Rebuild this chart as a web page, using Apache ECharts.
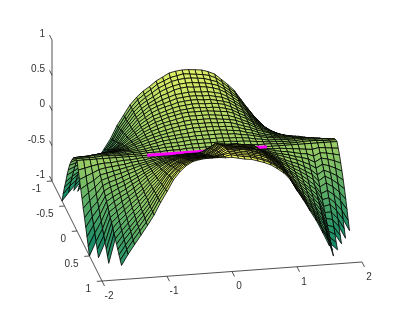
<!DOCTYPE html>
<html><head><meta charset="utf-8">
<style>html,body{margin:0;padding:0;background:#fff}#c{width:400px;height:316px}</style>
<script src="https://cdn.jsdelivr.net/npm/echarts@6/dist/echarts.min.js"></script>
</head><body><div id="c"></div>
<script>
const _ = null;
const xValues = [-2,-1.9,-1.8,-1.7,-1.6,-1.5,-1.4,-1.3,-1.2,-1.1,-1,-.9,-.8,-.7,-.6,-.5,-.4,-.3,-.2,-.1,0,.1,.2,.3,.4,.5,.6,.7,.8,.9,1,1.1,1.2,1.3,1.4,1.5,1.6,1.7,1.8,1.9,2];
const yValues = [-1,-.95,-.9,-.85,-.8,-.75,-.7,-.65,-.6,-.55,-.5,-.45,-.4,-.35,-.3,-.25,-.2,-.15,-.1,-.05,0,.05,.1,.15,.2,.25,.3,.35,.4,.45,.5,.55,.6,.65,.7,.75,.8,.85,.9,.95,1];
// surface heights, in hundredths; one row per y value, _ = outside the z limits
const zRows = [
[_,_,_,_,_,_,-90,-74,-60,-46,-28,-14,0,10,18,24,31,36,41,43,44,44,43,42,39,35,27,19,10,-3,-16,-28,-40,-50,-62,-75,-90,_,_,_,_],
[_,_,_,_,_,_,-86,-71,-57,-44,-27,-13,0,10,17,23,30,34,38,40,42,41,40,39,37,33,26,18,10,-3,-15,-27,-38,-48,-59,-72,-86,_,_,_,_],
[_,_,_,_,_,-95,-81,-67,-54,-41,-25,-13,0,9,16,22,28,32,36,38,39,39,38,37,34,31,24,17,9,-3,-14,-25,-36,-45,-56,-68,-81,-99,_,_,_],
[_,_,_,_,_,-88,-76,-62,-51,-39,-24,-12,0,9,15,20,26,30,33,35,36,36,35,34,32,29,23,16,9,-3,-13,-24,-34,-42,-52,-63,-76,-93,_,_,_],
[_,_,_,_,-94,-82,-70,-58,-47,-36,-22,-11,0,8,14,19,24,27,31,33,34,33,33,32,30,27,22,15,8,-2,-12,-22,-31,-39,-48,-58,-70,-86,_,_,_],
[_,_,_,-99,-86,-75,-64,-53,-43,-33,-20,-10,0,7,14,18,22,25,28,29,30,30,29,29,27,25,20,14,7,-2,-12,-20,-29,-36,-45,-53,-64,-78,-94,_,_],
[_,_,_,-89,-77,-67,-58,-48,-40,-31,-19,-10,0,7,13,17,20,23,26,27,28,28,27,27,25,23,19,13,7,-2,-11,-19,-26,-33,-40,-48,-58,-70,-85,_,_],
[_,_,-90,-79,-69,-60,-52,-43,-36,-28,-17,-9,0,6,12,16,19,21,24,25,26,26,25,25,23,21,18,12,6,-2,-10,-17,-24,-29,-36,-43,-51,-63,-76,-91,_],
[-100,-89,-79,-69,-60,-52,-46,-38,-32,-25,-16,-8,0,6,11,14,17,20,22,23,24,24,23,23,22,20,16,11,6,-2,-9,-15,-21,-26,-32,-37,-45,-55,-66,-80,-100],
[-86,-76,-68,-60,-52,-45,-40,-34,-28,-22,-14,-7,0,5,10,13,16,18,20,21,22,22,21,21,20,18,15,10,5,-2,-8,-13,-19,-23,-27,-32,-39,-47,-57,-69,-86],
[-73,-65,-57,-50,-44,-38,-34,-29,-24,-19,-12,-6,0,5,9,12,15,17,19,20,20,20,20,19,18,17,14,9,5,-1,-7,-12,-16,-20,-23,-27,-33,-40,-48,-58,-73],
[-62,-55,-49,-43,-38,-33,-29,-25,-21,-17,-11,-6,0,4,8,11,13,15,17,18,18,18,18,17,16,15,12,8,4,-1,-6,-10,-14,-17,-20,-23,-28,-34,-41,-50,-62],
[-49,-44,-39,-34,-30,-26,-24,-21,-18,-14,-9,-5,0,4,7,10,12,13,15,16,16,16,16,15,14,13,11,7,4,-1,-5,-9,-12,-14,-16,-18,-22,-27,-33,-39,-49],
[-38,-34,-30,-27,-23,-20,-19,-17,-15,-12,-8,-4,0,3,6,8,10,12,13,14,14,14,14,13,13,12,9,6,3,-1,-4,-7,-10,-11,-13,-14,-17,-21,-25,-31,-38],
[-28,-25,-22,-20,-17,-15,-14,-13,-12,-10,-6,-3,0,3,5,7,9,10,11,12,12,12,12,11,11,10,8,5,3,-1,-4,-6,-8,-9,-10,-11,-13,-16,-19,-23,-28],
[-20,-17,-15,-14,-12,-10,-10,-10,-9,-8,-5,-3,0,2,5,6,7,8,9,10,10,10,10,10,9,8,7,4,2,-1,-3,-5,-6,-7,-7,-7,-9,-11,-13,-16,-20],
[-13,-11,-10,-9,-8,-7,-7,-7,-6,-6,-4,-2,0,2,4,5,6,7,7,8,8,8,8,8,7,7,5,4,2,0,-2,-3,-4,-5,-5,-5,-6,-7,-8,-10,-13],
[-7,-6,-6,-5,-4,-4,-4,-5,-4,-4,-3,-2,0,1,3,4,4,5,6,6,6,6,6,6,5,5,4,3,1,0,-2,-2,-3,-3,-3,-3,-3,-4,-5,-6,-7],
[-3,-3,-3,-2,-2,-2,-2,-3,-3,-2,-2,-1,0,1,2,2,3,3,4,4,4,4,4,4,4,3,3,2,1,0,-1,-1,-2,-2,-2,-1,-1,-2,-2,-3,-3],
[-1,-1,-1,-1,0,0,-1,-1,-1,-1,-1,0,0,0,1,1,1,2,2,2,2,2,2,2,2,2,1,1,0,0,0,-1,-1,-1,-1,0,0,0,-1,-1,-1],
[0,0,0,0,0,0,0,0,0,0,0,0,0,0,0,0,0,0,0,0,0,0,0,0,0,0,0,0,0,0,0,0,0,0,0,0,0,0,0,0,0],
[-10,-8,-6,-4,-3,-3,-2,-1,-1,0,1,1,2,2,3,3,3,3,3,4,5,5,5,4,4,4,4,3,2,1,0,0,-1,-2,-3,-4,-5,-3,-4,-5,-6],
[-20,-16,-12,-8,-6,-5,-4,-3,-1,0,1,3,4,5,6,6,6,6,6,8,10,9,9,9,8,8,7,6,4,3,1,-1,-2,-4,-6,-7,-11,-7,-8,-10,-12],
[-30,-24,-19,-12,-10,-8,-6,-4,-2,0,2,4,6,8,9,9,9,9,9,12,14,14,14,13,13,12,11,9,6,4,1,-1,-3,-6,-8,-11,-16,-11,-13,-16,-20],
[-40,-32,-25,-16,-13,-10,-8,-5,-2,1,3,6,8,10,12,12,13,13,13,16,20,20,19,19,18,17,16,12,9,5,2,-1,-4,-7,-11,-15,-21,-16,-19,-23,-28],
[-50,-40,-31,-20,-16,-13,-10,-6,-3,1,4,7,10,13,15,16,16,16,16,21,26,25,24,24,23,22,20,14,11,7,2,-2,-6,-9,-14,-19,-27,-21,-25,-30,-37],
[-60,-48,-38,-24,-19,-16,-12,-8,-4,1,5,9,12,16,18,19,19,19,19,25,31,30,29,29,28,26,24,17,13,8,3,-2,-7,-11,-17,-22,-32,-26,-31,-38,-46],
[-70,-56,-44,-28,-23,-18,-14,-9,-4,1,6,11,15,18,21,22,22,22,22,29,35,34,33,33,31,30,28,20,15,10,3,-2,-8,-13,-19,-26,-37,-32,-38,-46,-57],
[-80,-64,-50,-32,-26,-21,-16,-10,-5,2,7,13,17,21,24,25,25,25,25,32,38,37,36,36,34,32,30,23,17,11,4,-2,-9,-15,-22,-30,-43,-39,-46,-55,-68],
[-90,-72,-56,-36,-29,-23,-18,-12,-5,2,8,15,20,24,27,28,28,28,28,35,41,40,39,38,36,34,32,25,20,13,4,-3,-10,-17,-25,-33,-48,-46,-54,-65,-80],
[-100,-80,-63,-40,-33,-26,-20,-13,-6,2,9,16,22,27,30,31,32,32,32,37,44,42,41,40,38,36,33,27,21,14,4,-3,-11,-19,-28,-37,-54,-52,-61,-74,-91],
[_,-88,-69,-44,-36,-29,-21,-14,-7,2,10,18,25,30,33,34,35,35,35,41,47,46,44,43,41,39,36,30,23,16,5,-3,-12,-20,-30,-41,-59,-59,-69,-84,_],
[_,-96,-75,-48,-39,-31,-23,-16,-7,3,11,20,27,32,36,37,38,38,38,44,50,49,47,46,44,41,38,32,25,17,5,-4,-13,-22,-33,-44,-64,-66,-77,-94,_],
[_,_,-81,-52,-42,-34,-25,-17,-8,3,12,22,30,35,39,40,41,41,41,47,53,51,49,49,46,44,40,34,27,18,6,-4,-14,-24,-36,-48,-70,-73,-86,_,_],
[_,_,-88,-56,-46,-36,-27,-18,-8,3,13,24,32,38,42,43,44,44,44,49,55,53,52,51,48,45,42,35,28,19,6,-4,-15,-26,-39,-52,-75,-80,-94,_,_],
[_,_,-94,-60,-49,-39,-29,-20,-9,4,15,27,35,41,45,47,47,47,47,52,57,55,54,53,50,47,43,37,30,20,7,-5,-17,-28,-41,-56,-80,-88,_,_,_],
[_,_,_,-64,-52,-42,-31,-21,-10,4,16,28,37,44,48,50,50,50,50,54,59,57,55,54,51,49,45,38,31,21,7,-5,-18,-30,-44,-59,-86,-95,_,_,_],
[_,_,_,-68,-55,-44,-33,-22,-10,4,17,31,40,47,51,53,54,54,54,56,60,58,56,55,52,50,46,39,32,22,7,-5,-19,-31,-47,-63,-91,_,_,_,_],
[_,_,_,-72,-59,-47,-35,-23,-11,5,18,32,42,50,54,56,57,57,57,59,61,59,57,56,53,50,46,40,33,23,8,-5,-20,-33,-50,-67,-96,_,_,_,_],
[_,_,_,-76,-62,-49,-37,-25,-11,5,19,34,45,52,57,59,60,60,60,60,62,60,58,57,54,51,47,41,34,24,8,-6,-21,-35,-52,-70,_,_,_,_,_],
[_,_,_,-80,-65,-52,-39,-26,-12,5,20,36,47,55,60,62,63,63,63,62,62,60,58,57,54,51,47,41,34,24,8,-6,-22,-37,-55,-74,_,_,_,_,_]
];
const lineX = [-.92,.92];
const lineY = [0,0];
const lineZ = [0,0];
const xTicks = [-2,-1,0,1,2];
const yTicks = [-1,-.5,0,.5,1];
const zTicks = [-1,-.5,0,.5,1];

// orthographic view
const view = {u0:207,ux:65,uy:25,v0:151,vx:-4.75,vy:50,vz:-70.5};
const project = (x,y,z)=>[view.u0+view.ux*x+view.uy*y, view.v0+view.vx*x+view.vy*y+view.vz*z];
const summer = z=>{const r=Math.max(0,Math.min(1,(z+1)/1.63));return `rgb(${Math.round(255*r)},${Math.round(255*(.5+.5*r))},102)`;};
const depthSplit = 24;
function cells(fromJ,toJ){const d=[];for(let j=fromJ;j<toJ;j++)for(let i=xValues.length-2;i>=0;i--){
  if(zRows[j][i]!==_&&zRows[j][i+1]!==_&&zRows[j+1][i]!==_&&zRows[j+1][i+1]!==_)d.push([i,j]);}return d;}
function renderCell(p,api){
  const i=api.value(0),j=api.value(1);
  const corners=[[i,j],[i+1,j],[i+1,j+1],[i,j+1]];
  let sum=0;
  const pts=corners.map(([a,b])=>{const z=zRows[b][a]/100;sum+=z;return api.coord(project(xValues[a],yValues[b],z));});
  return {type:'polygon',shape:{points:pts},style:{fill:summer(sum/4),stroke:'#000',lineWidth:.8}};
}
const base={type:'custom',coordinateSystem:'cartesian2d',silent:true,animation:false,progressive:0,clip:false};
const axisColor='#262626';
const seg=(api,a,b)=>({type:'line',shape:{x1:api.coord(a)[0],y1:api.coord(a)[1],x2:api.coord(b)[0],y2:api.coord(b)[1]},style:{stroke:axisColor,lineWidth:.8,fill:null}});
const lab=(api,a,dx,dy,t,align)=>({type:'text',style:{x:api.coord(a)[0]+dx,y:api.coord(a)[1]+dy,text:t,align:align,verticalAlign:'middle',fill:'#333',font:'10px "Liberation Sans"'}});
const chart=echarts.init(document.getElementById('c'),null,{renderer:'canvas'});
chart.setOption({
  animation:false,backgroundColor:'#fff',
  grid:{left:0,right:0,top:0,bottom:0},
  xAxis:{type:'value',min:0,max:400,show:false},
  yAxis:{type:'value',min:0,max:316,inverse:true,show:false},
  series:[
    Object.assign({},base,{z:2,data:[[0]],renderItem(p,api){
      const ch=[
        seg(api,project(-2,-1,-1),project(-2,-1,1)),
        seg(api,project(-2,-1,-1),project(-2,1,-1)),
        seg(api,project(-2,1,-1),project(2,1,-1))];
      xTicks.forEach(t=>{ch.push(seg(api,project(t,1,-1),project(t,1.1,-1)));ch.push(lab(api,project(t,1,-1),7,15,String(t),'center'));});
      yTicks.forEach(t=>{ch.push(seg(api,project(-2,t,-1),project(-2.08,t,-1)));ch.push(lab(api,project(-2,t,-1),-11,8,String(t),'right'));});
      zTicks.forEach(t=>{ch.push(seg(api,project(-2,-1,t),project(-2,-1.1,t)));ch.push(lab(api,project(-2,-1,t),-7,-6,String(t),'right'));});
      return {type:'group',children:ch};
    }}),
    Object.assign({},base,{z:3,data:cells(0,depthSplit),renderItem:renderCell}),
    Object.assign({},base,{z:4,data:[[0]],renderItem(p,api){
      const a=api.coord(project(lineX[0],lineY[0],lineZ[0])),b=api.coord(project(lineX[1],lineY[1],lineZ[1]));
      return {type:'line',shape:{x1:a[0],y1:a[1],x2:b[0],y2:b[1]},style:{stroke:'#ff00ff',lineWidth:3,fill:null}};
    }}),
    Object.assign({},base,{z:5,data:cells(depthSplit,yValues.length-1),renderItem:renderCell})
  ]
});
</script></body></html>
